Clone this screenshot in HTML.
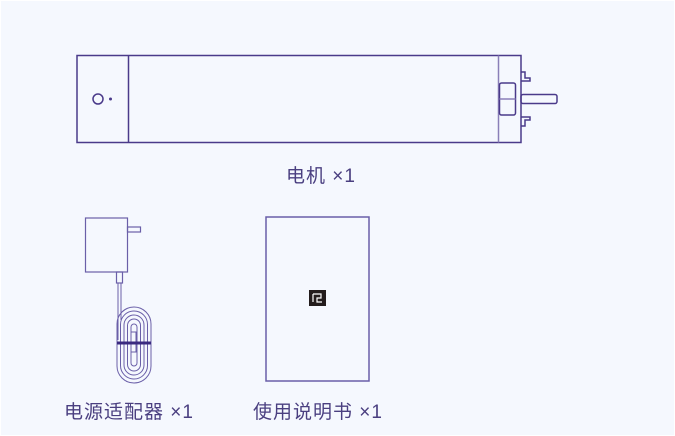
<!DOCTYPE html>
<html><head><meta charset="utf-8"><style>
html,body{margin:0;padding:0;background:#fff}
body{width:675px;height:436px;overflow:hidden}
svg{display:block}
text{font-family:"Liberation Sans","Noto Sans CJK SC",sans-serif;font-size:19px;letter-spacing:1px;fill:#4a3f80}
</style></head><body>
<svg width="675" height="436" viewBox="0 0 675 436">
<rect x="0.5" y="0.5" width="674" height="435" fill="#f5f8fe" stroke="#ffffff"/>
<g fill="none" stroke="#4a3a8a" stroke-width="1.5">
<rect x="77" y="55.5" width="444" height="87"/>
<line x1="128.5" y1="55.5" x2="128.5" y2="142.5"/>
<line x1="498.5" y1="55.5" x2="498.5" y2="142.5" stroke="#8a7fb8"/>
<circle cx="98" cy="99" r="5"/>
<rect x="499.5" y="83" width="16" height="32" rx="2"/>
<line x1="499.5" y1="99" x2="515.5" y2="99" stroke="#8a7fb8"/>
<rect x="521" y="94.5" width="36" height="9" rx="2"/>
<path d="M521 72 h4 v6 h5 v3 h-9"/>
<path d="M521 126 h4 v-6 h5 v-3 h-9"/>
<rect x="85.5" y="218" width="42" height="54" stroke="#6a5fa8" stroke-width="1.2"/>
<rect x="127.5" y="227" width="13" height="5" stroke="#6a5fa8" stroke-width="1.2"/>
<rect x="116.5" y="272" width="6" height="11" stroke="#6a5fa8" stroke-width="1.2"/>
<g stroke="#6a5fa8" stroke-width="1">
<line x1="118" y1="283" x2="118" y2="340"/>
<line x1="121" y1="283" x2="121" y2="320"/>
<rect x="117" y="307" width="34" height="76" rx="17"/>
<rect x="120.5" y="311" width="27" height="68" rx="13.5"/>
<rect x="124" y="315" width="20" height="60" rx="10"/>
<rect x="127.5" y="319" width="13" height="52" rx="6.5"/>
<rect x="131" y="324" width="6" height="42" rx="3"/>
<rect x="131" y="332" width="5" height="20" fill="#f5f8fe"/>
</g>
<rect x="117" y="341.5" width="34" height="3" fill="#3a2a80" stroke="none"/>
<rect x="266" y="217" width="103" height="164" stroke="#6a5fa8"/>
</g>
<rect x="309" y="290" width="17" height="16" fill="#231c1c"/>
<path d="M313 294 h8 v4 h-4 v4 h5 M313 294 v8" fill="none" stroke="#fff" stroke-width="1.2"/>
<circle cx="110.5" cy="99" r="1.5" fill="#4a3a8a"/>
<text x="286" y="182">电机 ×1</text>
<text x="64" y="418">电源适配器 ×1</text>
<text x="253" y="418">使用说明书 ×1</text>
</svg>
</body></html>
